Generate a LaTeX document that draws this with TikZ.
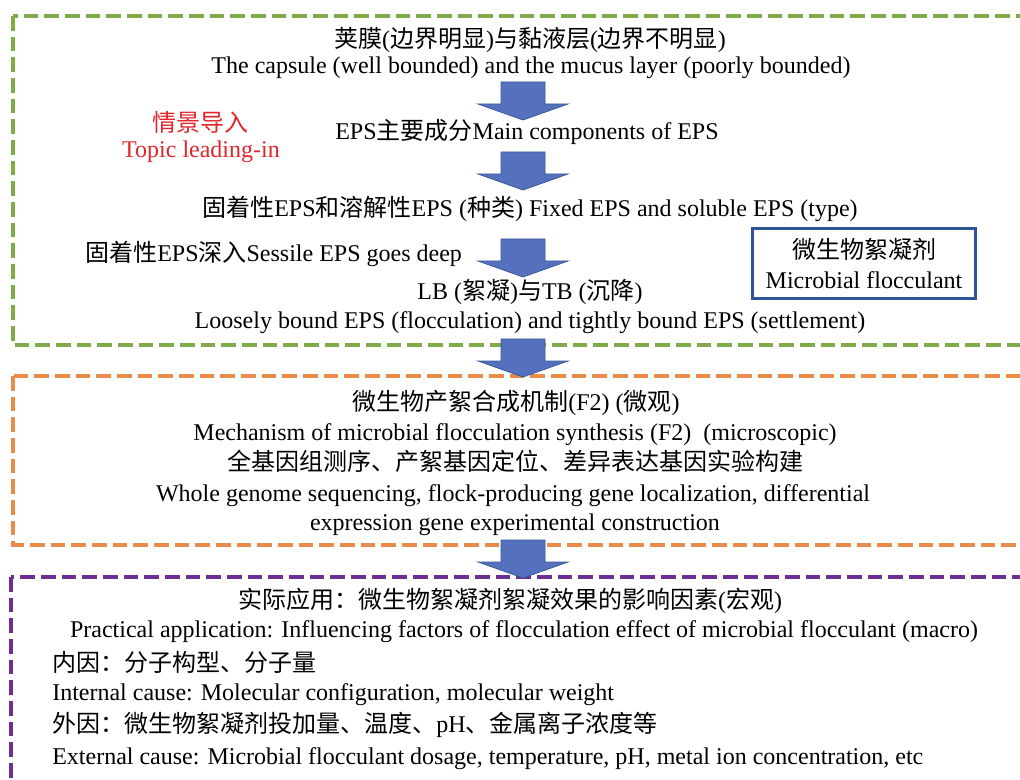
\documentclass[tikz,border=0pt]{standalone}
\usepackage{fontspec}
\setmainfont{Liberation Serif}
\newfontfamily\cjk{Noto Sans CJK SC}
\usepackage{tikz}
\usetikzlibrary{shapes,arrows,positioning,calc}
\definecolor{framegreen}{HTML}{7FAC48}
\definecolor{frameorange}{HTML}{E98B4B}
\definecolor{framepurple}{HTML}{6E2E94}
\definecolor{boxblue}{HTML}{2F5597}
\definecolor{arrowblue}{HTML}{5571BE}
\definecolor{arrowedge}{HTML}{3A5A9E}
\definecolor{leadred}{HTML}{E0262B}
\newcommand{\zh}[1]{{\cjk #1}}
\tikzset{
  txt/.style={inner sep=0pt, text height=13pt, text depth=4pt, yshift=-1.5pt,
    font=\fontsize{18}{21}\selectfont},
  frame/.style={line width=2.4pt, dash pattern=on 11pt off 4.5pt},
  flowarrow/.pic={
    \draw[draw=arrowedge, fill=arrowblue, line width=0.6pt, line join=miter]
    (-22,0) -- (22,0) -- (22,22) -- (45,22) -- (0,38) -- (-45,22) -- (-22,22) -- cycle;
  },
}

\begin{document}
\begin{tikzpicture}[x=0.75pt,y=-0.75pt]
        \useasboundingbox (0,0) rectangle (1020,780);
        \clip (0,0) rectangle (1020,780);

        % three dashed frames
        \draw[frame,framegreen] (13,16) rectangle (1040,345);
        \draw[frame,frameorange] (13,376) rectangle (1040,545);
        \draw[frame,framepurple] (11,577) rectangle (1040,800);

        % topic leading-in
        \node[txt] (cap) at (530,40) {\zh{荚膜}(\zh{边界明显})\zh{与黏液层}(\zh{边界不明显})};
        \node[txt] (capen) at (531,66) {The capsule (well bounded) and the mucus layer (poorly bounded)};
        \node[txt,text=leadred] (lead) at (200,124) {\zh{情景导入}};
        \node[txt,text=leadred] (leaden) at (201,150) {Topic leading-in};
        \node[txt] (comp) at (527,132) {EPS\zh{主要成分}Main components of EPS};
        \node[txt] (kind) at (530,209) {\zh{固着性}EPS\zh{和溶解性}EPS (\zh{种类}) Fixed EPS and soluble EPS (type)};
        \node[txt,anchor=west] (deep) at (85,254) {\zh{固着性}EPS\zh{深入}Sessile EPS goes deep};
        \node[txt] (lbtb) at (530,292) {LB (\zh{絮凝})\zh{与}TB (\zh{沉降})};
        \node[txt] (lbtben) at (530,321) {Loosely bound EPS (flocculation) and tightly bound EPS (settlement)};

        \node[draw=boxblue,line width=2.2pt,minimum width=167pt,minimum height=52pt,
        align=center,font=\fontsize{18}{22}\selectfont] (floc) at (864,263.5)
        {\zh{微生物絮凝剂}\\Microbial flocculant};

        % synthesis mechanism
        \node[txt] (mech) at (516,402) {\zh{微生物产絮合成机制}(F2) (\zh{微观})};
        \node[txt] (mechen) at (515,432) {Mechanism of microbial flocculation synthesis (F2)\ \ (microscopic)};
        \node[txt] (gene) at (515,462) {\zh{全基因组测序、产絮基因定位、差异表达基因实验构建}};
        \node[txt] (geneen) at (513,493) {Whole genome sequencing, flock-producing gene localization, differential};
        \node[txt] (geneen2) at (515,522) {expression gene experimental construction};

        % practical application
        \node[txt] (appl) at (510,600) {\zh{实际应用：微生物絮凝剂絮凝效果的影响因素}(\zh{宏观})};
        \node[txt] (applen) at (524,629) {Practical application: Influencing factors of flocculation effect of microbial flocculant (macro)};
        \node[txt,anchor=west] (inner) at (52,663) {\zh{内因：分子构型、分子量}};
        \node[txt,anchor=west] (inneren) at (52,692) {Internal cause: Molecular configuration, molecular weight};
        \node[txt,anchor=west] (outer) at (52,724) {\zh{外因：微生物絮凝剂投加量、温度、}pH\zh{、金属离子浓度等}};
        \node[txt,anchor=west] (outeren) at (52,756) {External cause: Microbial flocculant dosage, temperature, pH, metal ion concentration, etc};

        % block arrows
        \pic (a1) at (523,82) {flowarrow};
        \pic (a2) at (523,152) {flowarrow};
        \pic (a3) at (523,239) {flowarrow};
        \pic (a4) at (523,339) {flowarrow};
        \pic (a5) at (523,540) {flowarrow};
      \end{tikzpicture}
\end{document}
